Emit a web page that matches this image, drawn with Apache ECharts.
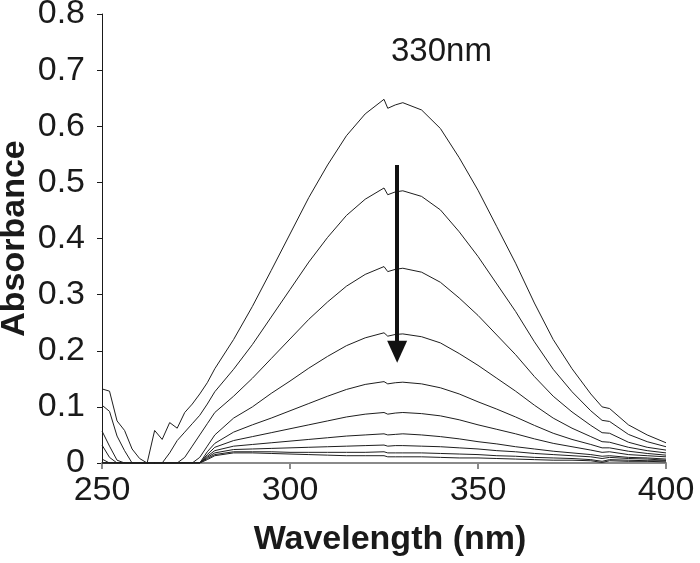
<!DOCTYPE html>
<html>
<head>
<meta charset="utf-8">
<script src="https://cdn.jsdelivr.net/npm/echarts@6/dist/echarts.min.js"></script>
<style>html,body{margin:0;padding:0;background:#fff;}#c{width:700px;height:563px;}</style>
</head>
<body>
<div id="c"></div>
<script>
var wavelengths = [250,252,254,256,258,260,262,264,266,268,270,272,274,276,278,280,285,290,295,300,305,310,315,320,325,326,328,330,335,340,345,350,355,360,365,370,375,380,383,385,390,395,400];

var curve1 = [.132,.128,.075,.058,.025,.008,0,.058,.042,.072,.062,.09,.105,.123,.143,.168,.220,.279,.343,.408,.473,.531,.583,.622,.648,.632,.638,.642,.629,.596,.544,.486,.421,.356,.285,.220,.168,.123,.100,.097,.068,.050,.036];
var curve2 = [.103,.092,.048,.022,0,0,0,0,0,.018,.04,.055,.07,.085,.105,.127,.167,.211,.260,.309,.358,.402,.441,.470,.490,.478,.483,.485,.475,.451,.412,.368,.319,.270,.216,.167,.127,.093,.076,.074,.051,.038,.029];
var curve3 = [.057,.03,.005,0,0,0,0,0,0,0,0,.01,.03,.05,.07,.09,.119,.151,.186,.221,.256,.287,.315,.336,.35,.341,.345,.347,.340,.322,.294,.263,.228,.193,.154,.119,.091,.067,.054,.053,.037,.028,.023];
var curve4 = [.032,.01,0,0,0,0,0,0,0,0,0,0,0,.01,.03,.05,.08,.10,.124,.146,.169,.19,.209,.223,.232,.226,.229,.230,.225,.214,.195,.174,.151,.128,.103,.080,.062,.047,.038,.037,.028,.022,.018];
var curve5 = [.007,0,0,0,0,0,0,0,0,0,0,0,0,0,.02,.035,.055,.068,.08,.093,.106,.119,.131,.14,.145,.141,.143,.144,.141,.134,.123,.109,.096,.082,.067,.053,.042,.033,.027,.027,.021,.017,.014];
var curve6 = [0,0,0,0,0,0,0,0,0,0,0,0,0,0,.015,.028,.04,.047,.054,.061,.068,.075,.082,.087,.09,.087,.089,.09,.088,.084,.077,.068,.060,.052,.043,.035,.029,.023,.019,.020,.015,.013,.011];
var curve7 = [0,0,0,0,0,0,0,0,0,0,0,0,0,0,.012,.022,.03,.033,.036,.039,.042,.045,.048,.05,.052,.05,.051,.052,.05,.047,.043,.038,.034,.029,.025,.021,.018,.015,.012,.013,.010,.009,.007];
var curve8 = [0,0,0,0,0,0,0,0,0,0,0,0,0,0,.01,.018,.024,.025,.026,.027,.028,.029,.03,.031,.032,.03,.031,.031,.03,.029,.027,.025,.022,.02,.017,.015,.013,.011,.008,.010,.008,.007,.005];
var curve9 = [0,0,0,0,0,0,0,0,0,0,0,0,0,0,.008,.015,.02,.02,.02,.019,.019,.019,.019,.019,.02,.018,.018,.018,.018,.017,.016,.015,.013,.012,.01,.009,.008,.006,.003,.006,.005,.004,.004];
var curve10 = [0,0,0,0,0,0,0,0,0,0,0,0,0,0,.006,.013,.018,.018,.017,.016,.015,.014,.013,.013,.013,.011,.011,.011,.011,.01,.009,.009,.008,.007,.006,.005,.005,.004,.001,.004,.003,.003,.002];
var curves = [curve1,curve2,curve3,curve4,curve5,curve6,curve7,curve8,curve9,curve10];

var xTicks = [250,300,350,400];
var yTicks = [0,0.1,0.2,0.3,0.4,0.5,0.6,0.7,0.8];
var arrowFrom = [328.5, 0.531];
var arrowTo = [328.5, 0.198];
var annotation = '330nm';

var chart = echarts.init(document.getElementById('c'));
var series = curves.map(function (c, i) {
  var s = {
    type: 'line',
    data: wavelengths.map(function (w, j) { return [w, c[j]]; }),
    showSymbol: false,
    symbol: 'none',
    lineStyle: { color: '#1e1e1e', width: 1 },
    silent: true,
    z: 2
  };
  if (i === 0) {
    s.markLine = {
      silent: true,
      symbol: ['none', 'triangle'],
      symbolSize: [20, 22],
      label: { show: false },
      lineStyle: { color: '#111', width: 4, type: 'solid' },
      data: [[{ coord: arrowFrom }, { coord: arrowTo }]]
    };
  }
  return s;
});

chart.setOption({
  animation: false,
  backgroundColor: '#fff',
  grid: { left: 102, right: 34, top: 14, bottom: 100, containLabel: false, outerBoundsMode: 'none' },
  xAxis: {
    type: 'value', min: 250, max: 400, interval: 50,
    name: 'Wavelength (nm)', nameLocation: 'middle', nameGap: 60,
    nameTextStyle: { fontFamily: 'Liberation Sans', fontWeight: 'bold', fontSize: 34, color: '#1a1a1a', padding: [0, 0, 0, 12] },
    axisLine: { lineStyle: { color: '#8a8a8a', width: 2 } },
    axisTick: { show: true, length: 6, lineStyle: { color: '#8a8a8a', width: 2 } },
    axisLabel: { fontFamily: 'Liberation Sans', fontSize: 34, color: '#1a1a1a', margin: 11 },
    splitLine: { show: false }
  },
  yAxis: {
    type: 'value', min: 0, max: 0.8, interval: 0.1,
    name: 'Absorbance', nameLocation: 'middle', nameGap: 70, nameMoveOverlap: false,
    nameTextStyle: { fontFamily: 'Liberation Sans', fontWeight: 'bold', fontSize: 34, color: '#1a1a1a' },
    axisLine: { show: true, lineStyle: { color: '#1a1a1a', width: 1 } },
    axisTick: { show: true, length: 5, lineStyle: { color: '#1a1a1a', width: 1 } },
    axisLabel: { fontFamily: 'Liberation Sans', fontSize: 34, color: '#1a1a1a', margin: 17,
      formatter: function (v) { return String(Math.round(v * 10) / 10); } },
    splitLine: { show: false }
  },
  graphic: [{
    type: 'text', left: 391, top: 35,
    style: { text: annotation, font: '33px "Liberation Sans"', fill: '#1a1a1a' }
  }],
  series: series
});
</script>
</body>
</html>
